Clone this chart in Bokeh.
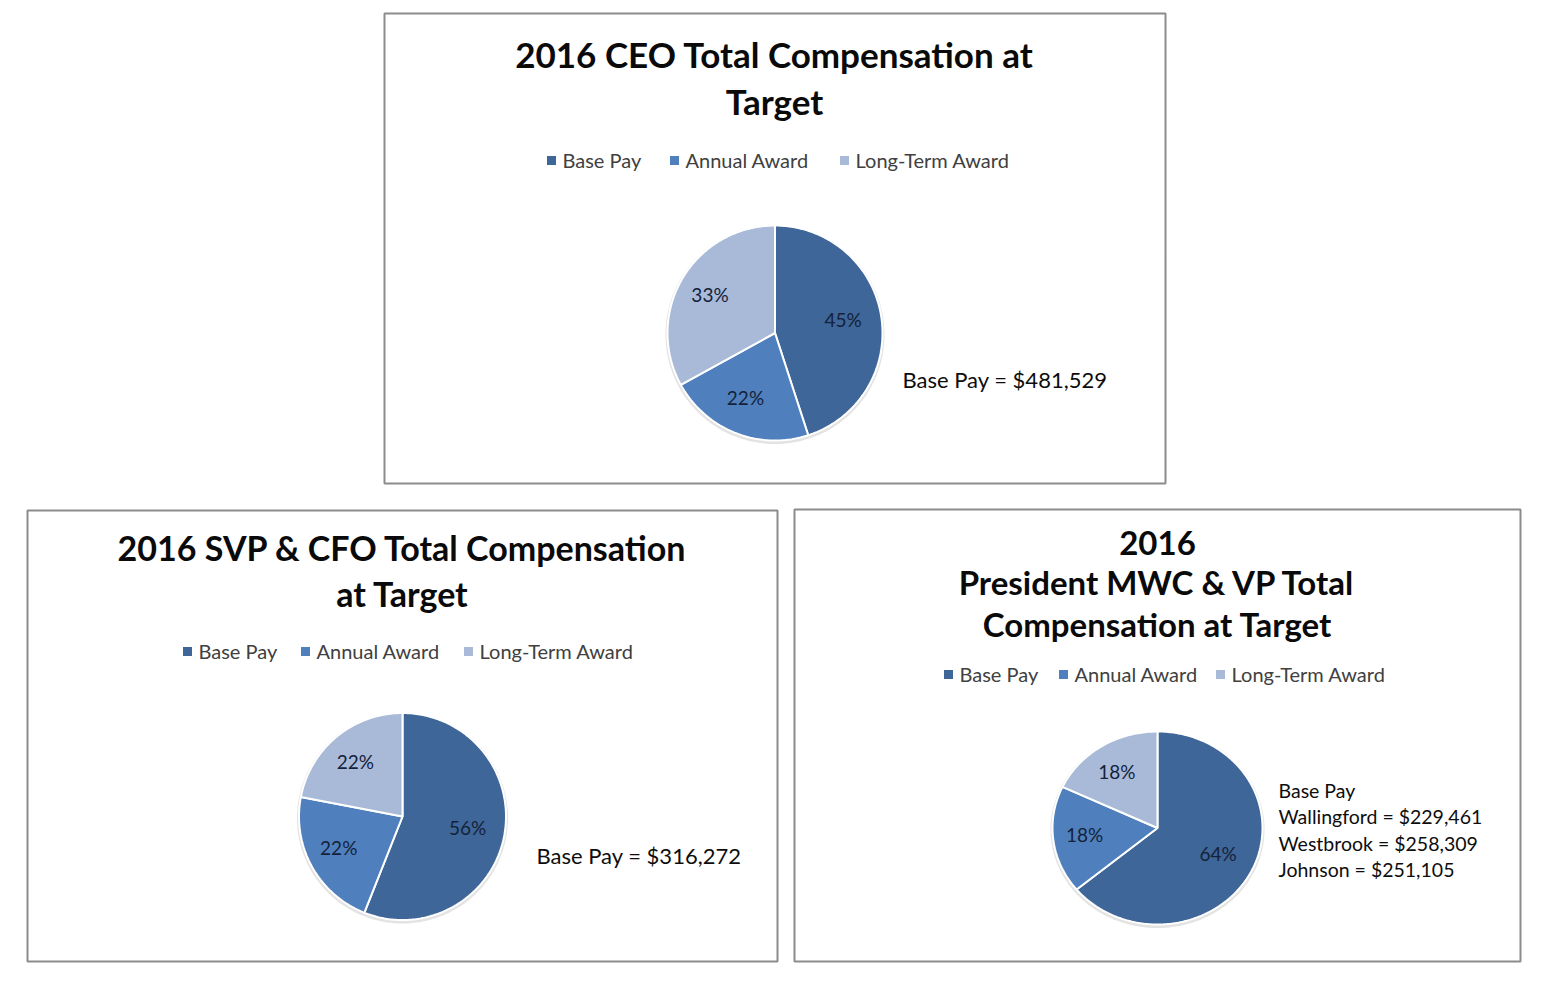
import numpy as np
from bokeh.plotting import figure
from bokeh.models import Range1d
from bokeh.core.properties import value
from bokeh.embed import file_html
from bokeh.resources import INLINE

# ---------------- data ----------------
categories = ["Base Pay", "Annual Award", "Long-Term Award"]
ceo_values = [45, 22, 33]
svp_values = [56, 22, 22]
pres_values = [64, 18, 18]

ceo_title = ["2016 CEO Total Compensation at", "Target"]
svp_title = ["2016 SVP & CFO Total Compensation", "at Target"]
pres_title = ["2016", "President MWC & VP Total", "Compensation at Target"]

ceo_note = ["Base Pay = $481,529"]
svp_note = ["Base Pay = $316,272"]
pres_note = ["Base Pay", "Wallingford = $229,461", "Westbrook = $258,309", "Johnson = $251,105"]

# ---------------- styles / layout ----------------
colors = ["#3F6698", "#4F80BD", "#A8BAD8"]
FONT = "Lato"
W, H = 1544, 966

panels = [
    dict(values=ceo_values, title=ceo_title, note=ceo_note,
         box=(384, 13, 1165, 483), tx=774, ty=[53, 100], tsize="35px",
         ly=159, lx=[562, 685, 855],
         cx=774.5, cy=332.5, rx=107.5, ry=107.5,
         nx=902, ny=[379], nsize="22px"),
    dict(values=svp_values, title=svp_title, note=svp_note,
         box=(27, 510, 777, 961), tx=402, ty=[547, 593], tsize="34px",
         ly=650, lx=[198, 316, 479],
         cx=402, cy=816, rx=103.5, ry=103.5,
         nx=536, ny=[855], nsize="22px"),
    dict(values=pres_values, title=pres_title, note=pres_note,
         box=(794, 509, 1520, 961), tx=1157, ty=[542, 581, 623], tsize="33px",
         ly=673, lx=[959, 1074, 1231],
         cx=1157, cy=827.5, rx=105, ry=96.5,
         nx=1278, ny=[790, 816, 843, 869], nsize="19.5px"),
]

p = figure(width=W, height=H, output_backend="svg", toolbar_location=None,
           x_range=Range1d(0, W), y_range=Range1d(H, 0),
           min_border=0, outline_line_color=None)
p.axis.visible = False
p.grid.visible = False
p.background_fill_color = "white"
p.border_fill_color = "white"

for pan in panels:
    x0, y0, x1, y1 = pan["box"]
    p.quad(left=[x0], right=[x1], top=[y0], bottom=[y1], fill_color=None,
           line_color="#8C8C8C", line_width=2)

    # title
    p.text(x=[pan["tx"]] * len(pan["title"]), y=pan["ty"], text=pan["title"],
           text_font=value(FONT), text_font_style="bold", text_font_size=pan["tsize"],
           text_align="center", text_baseline="middle", text_color="#0A0A0A")

    # legend
    p.scatter(x=[lx - 11 for lx in pan["lx"]], y=[pan["ly"] + 1] * 3, marker="square",
              size=9, fill_color=colors, line_color=None)
    p.text(x=pan["lx"], y=[pan["ly"]] * 3, text=categories,
           text_font=value(FONT), text_font_size="20px",
           text_align="left", text_baseline="middle", text_color="#404040")

    # pie (clockwise from 12 o'clock)
    vals = np.array(pan["values"], dtype=float)
    frac = vals / vals.sum()
    ends = np.cumsum(frac) * 2 * np.pi
    starts = ends - frac * 2 * np.pi
    cx, cy, rx, ry = pan["cx"], pan["cy"], pan["rx"], pan["ry"]

    # soft shadow / halo
    t = np.linspace(0, 2 * np.pi, 200)
    p.patch(x=cx + (rx + 2) * np.sin(t), y=cy + 1.5 - (ry + 2) * np.cos(t),
            fill_color="#D0D0D0", fill_alpha=0.6, line_color=None)

    xs, ys, lxs, lys, labels = [], [], [], [], []
    for a0, a1, v in zip(starts, ends, vals):
        th = np.linspace(a0, a1, max(int((a1 - a0) * 60), 4))
        xs.append(np.concatenate([[cx], cx + rx * np.sin(th), [cx]]))
        ys.append(np.concatenate([[cy], cy - ry * np.cos(th), [cy]]))
        m = (a0 + a1) / 2
        lxs.append(cx + 0.67 * rx * np.sin(m) - 3)
        lys.append(cy - 0.67 * ry * np.cos(m) - 2)
        labels.append(f"{int(v)}%")
    p.patches(xs=xs, ys=ys, fill_color=colors, line_color="white", line_width=2)
    p.text(x=lxs, y=lys, text=labels, text_font=value(FONT), text_font_size="19px",
           text_align="center", text_baseline="middle", text_color="#13223A")

    # note
    p.text(x=[pan["nx"]] * len(pan["note"]), y=pan["ny"], text=pan["note"],
           text_font=value(FONT), text_font_size=pan["nsize"],
           text_align="left", text_baseline="middle", text_color="#0D0D0D")

open("out.html", "w").write(file_html(p, INLINE))
